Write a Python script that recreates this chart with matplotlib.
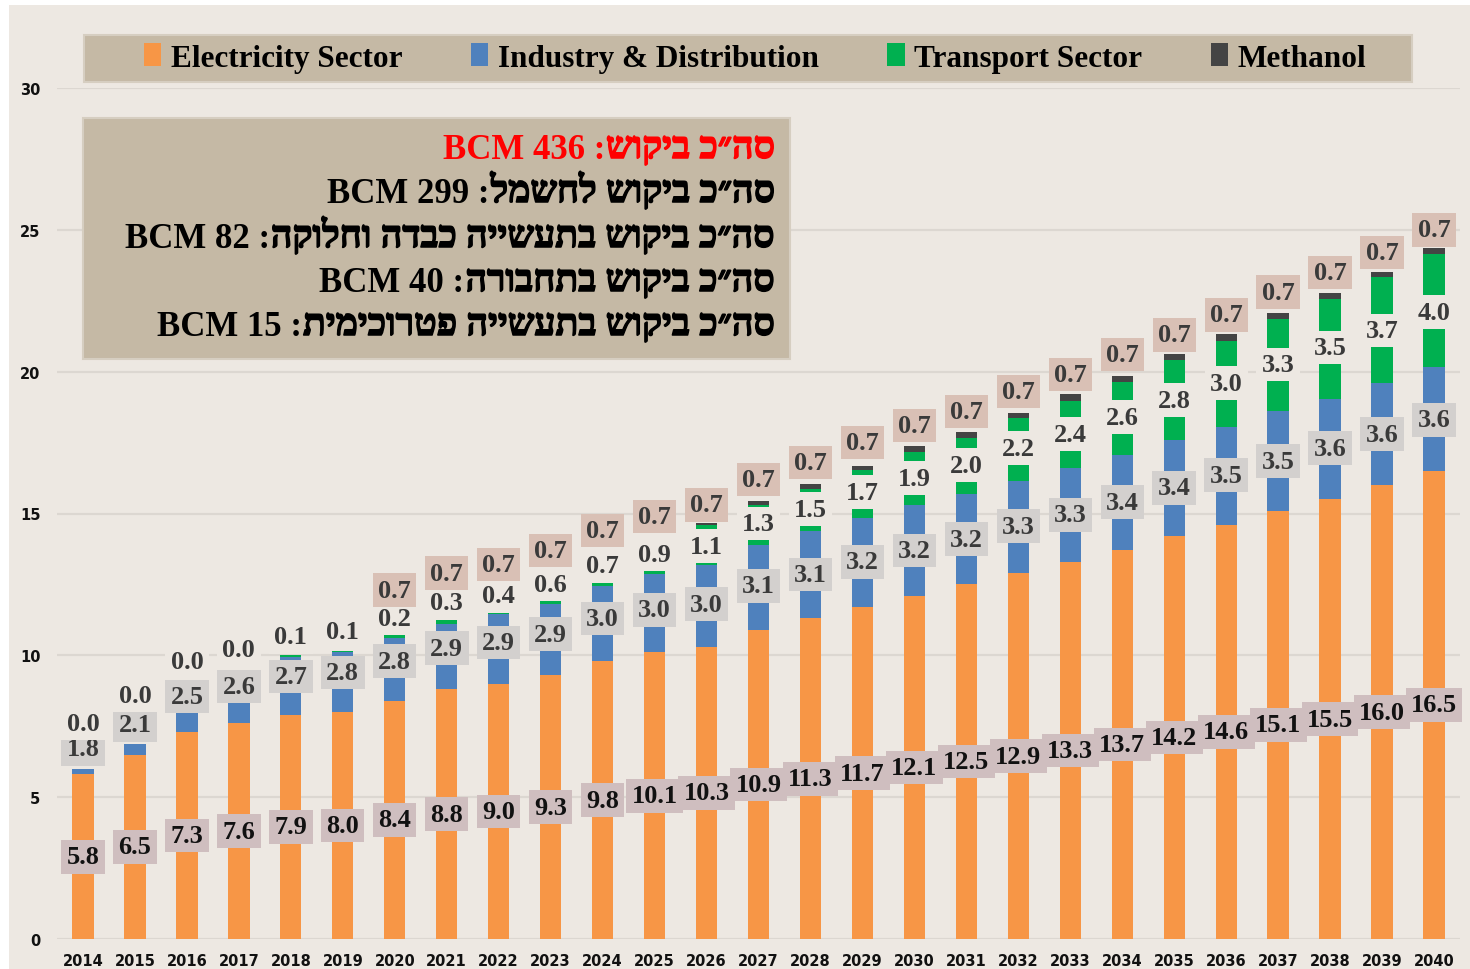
import numpy as np
import matplotlib
matplotlib.use("Agg")
import matplotlib.pyplot as plt
import matplotlib.patheffects as pe
from matplotlib.patches import Rectangle, Patch

# Data (BCM per year)
years = list(range(2014, 2041))
electricity = [5.8, 6.5, 7.3, 7.6, 7.9, 8.0, 8.4, 8.8, 9.0, 9.3, 9.8, 10.1, 10.3, 10.9,
               11.3, 11.7, 12.1, 12.5, 12.9, 13.3, 13.7, 14.2, 14.6, 15.1, 15.5, 16.0, 16.5]
# values printed on the labels
industry_lbl = [1.8, 2.1, 2.5, 2.6, 2.7, 2.8, 2.8, 2.9, 2.9, 2.9, 3.0, 3.0, 3.0, 3.1,
                3.1, 3.2, 3.2, 3.2, 3.3, 3.3, 3.4, 3.4, 3.5, 3.5, 3.6, 3.6, 3.6]
transport_lbl = [0.0, 0.0, 0.0, 0.0, 0.1, 0.1, 0.2, 0.3, 0.4, 0.6, 0.7, 0.9, 1.1, 1.3,
                 1.5, 1.7, 1.9, 2.0, 2.2, 2.4, 2.6, 2.8, 3.0, 3.3, 3.5, 3.7, 4.0]
methanol_lbl = [None, None, None, None, None, None, 0.7, 0.7, 0.7, 0.7, 0.7, 0.7, 0.7, 0.7,
                0.7, 0.7, 0.7, 0.7, 0.7, 0.7, 0.7, 0.7, 0.7, 0.7, 0.7, 0.7, 0.7]
# segment heights as drawn by the bars (they differ from the labels in the early years)
industry_bar = [0.21, 0.37, 1.2, 1.6, 2.05, 2.1, 2.2, 2.3, 2.45, 2.5, 2.65, 2.75, 2.9, 3.0,
                3.1, 3.15, 3.2, 3.2, 3.25, 3.3, 3.35, 3.4, 3.45, 3.5, 3.55, 3.6, 3.65]
transport_bar = [0.0, 0.0, 0.0, 0.0, 0.05, 0.05, 0.1, 0.2, 0.3, 0.5, 0.7, 1.0, 1.4, 1.4,
                 1.47, 1.7, 1.88, 1.97, 2.2, 2.36, 2.57, 2.82, 3.03, 3.25, 3.5, 3.73, 3.99]
methanol_bar = [0.0, 0.0, 0.0, 0.0, 0.0, 0.0, 0.05, 0.05, 0.05, 0.05, 0.1, 0.1, 0.06, 0.14,
                0.17, 0.14, 0.21, 0.2, 0.21, 0.25, 0.21, 0.22, 0.24, 0.21, 0.23, 0.2, 0.23]

series_names = ["Electricity Sector", "Industry & Distribution", "Transport Sector", "Methanol"]
series_colors = ["#F79646", "#4F81BD", "#00B050", "#444444"]

info_lines = [("סה״כ ביקוש", "BCM 436"),
              ("סה״כ ביקוש לחשמל", "BCM 299"),
              ("סה״כ ביקוש בתעשייה כבדה וחלוקה", "BCM 82"),
              ("סה״כ ביקוש בתחבורה", "BCM 40"),
              ("סה״כ ביקוש בתעשייה פטרוכימית", "BCM 15")]
info_colors = ["#FF0000", "black", "black", "black", "black"]

BG = "#EDE8E2"
TAN = "#C5B9A5"
SERIF = ["Liberation Serif", "DejaVu Sans"]

fig = plt.figure(figsize=(14.7, 9.7), dpi=100, facecolor="white")
W, H = 1470.0, 970.0

# beige page (thin white margin at left/top like the screenshot)
fig.patches.append(Rectangle((9 / W, 0), 1 - 9 / W, 1 - 6 / H, transform=fig.transFigure,
                             facecolor=BG, edgecolor="none", zorder=-10))

ax = fig.add_axes([57 / W, 1 - 940 / H, (1460 - 57) / W, (940 - 89) / H])
ax.set_facecolor("none")

x = np.arange(len(years))
e = np.array(electricity)
ib = np.array(industry_bar)
tb = np.array(transport_bar)
mb = np.array(methanol_bar)
bw = 0.41

ax.bar(x, e, bw, color=series_colors[0], zorder=2)
ax.bar(x, ib, bw, bottom=e, color=series_colors[1], zorder=2)
ax.bar(x, tb, bw, bottom=e + ib, color=series_colors[2], zorder=2)
ax.bar(x, mb, bw, bottom=e + ib + tb, color=series_colors[3], zorder=2)

ax.set_xlim(-0.5, len(years) - 0.5)
ax.set_ylim(0, 30)
ax.set_yticks(range(0, 31, 5))
ax.set_xticks(x)
ax.set_xticklabels([str(y) for y in years])
ax.grid(axis="y", color="#DCD7D1", linewidth=1.6, zorder=0)
ax.set_axisbelow(True)
for s in ax.spines.values():
    s.set_visible(False)
ax.tick_params(length=0, labelsize=10.5, colors="#111111")
ax.tick_params(axis="y", pad=12)
ax.tick_params(axis="x", pad=10)
for lab in ax.get_xticklabels() + ax.get_yticklabels():
    lab.set_fontweight("bold")

# data labels
fs = 19
il = np.array(industry_lbl)
tl = np.array(transport_lbl)
for i in range(len(years)):
    ax.text(x[i], e[i] / 2, "%.1f" % e[i], ha="center", va="center", fontsize=fs,
            fontweight="bold", family=SERIF, color="#111111", zorder=4,
            bbox=dict(boxstyle="square,pad=0.2", fc="#CFBEBF", ec="none"))
    ax.text(x[i], e[i] + il[i] / 2, "%.1f" % il[i], ha="center", va="center", fontsize=fs,
            fontweight="bold", family=SERIF, color="#3A3A3A", zorder=5,
            bbox=dict(boxstyle="square,pad=0.2", fc="#D3D0CE", ec="none"))
    ax.text(x[i], e[i] + il[i] + tl[i] / 2, "%.1f" % tl[i], ha="center", va="center",
            fontsize=fs, fontweight="bold", family=SERIF, color="#3A3A3A", zorder=6,
            bbox=dict(boxstyle="square,pad=0.2", fc=BG, ec="none"))
    if methanol_lbl[i] is not None:
        m = methanol_lbl[i]
        ax.text(x[i], e[i] + il[i] + tl[i] + m + 0.2, "%.1f" % m, ha="center", va="center",
                fontsize=fs, fontweight="bold", family=SERIF, color="#3A3A3A", zorder=7,
                bbox=dict(boxstyle="square,pad=0.2", fc="#D9C0B5", ec="none"))

# legend band
fig.patches.append(Rectangle((84 / W, 1 - 83 / H), (1412 - 84) / W, 47 / H,
                             transform=fig.transFigure, facecolor=TAN,
                             edgecolor="#D6CEC1", linewidth=1.5, zorder=1))
handles = [Patch(facecolor=c, edgecolor="none") for c in series_colors]
fig.legend(handles, series_names, loc="center", bbox_to_anchor=(755 / W, 1 - 59 / H),
           ncol=4, frameon=False, handlelength=0.55, handleheight=0.75, handletextpad=0.3,
           columnspacing=2.2, prop={"family": SERIF, "weight": "bold", "size": 22.5})

# totals box (Hebrew is right-to-left; matplotlib has no bidi, so write it in visual order)
fig.patches.append(Rectangle((83 / W, 1 - 360 / H), (790 - 83) / W, (360 - 119) / H,
                             transform=fig.transFigure, facecolor=TAN,
                             edgecolor="#D6CEC1", linewidth=1.5, zorder=1))
renderer = fig.canvas.get_renderer()
row_y = [148, 192, 237, 281, 325]
for (heb, latin), col, yy in zip(info_lines, info_colors, row_y):
    base = 1 - (yy + 11) / H
    t = fig.text(775 / W, base, heb[::-1], ha="right", va="baseline", fontsize=27,
                 fontweight="bold", family=SERIF, color=col, zorder=3,
                 path_effects=[pe.withStroke(linewidth=1.1, foreground=col)])
    bb = t.get_window_extent(renderer)
    fig.text((bb.x0 - 1) / W, base, latin + " :", ha="right", va="baseline", fontsize=25,
             fontweight="bold", family=SERIF, color=col, zorder=3)

fig.savefig("out.png", dpi=100, facecolor=fig.get_facecolor())
